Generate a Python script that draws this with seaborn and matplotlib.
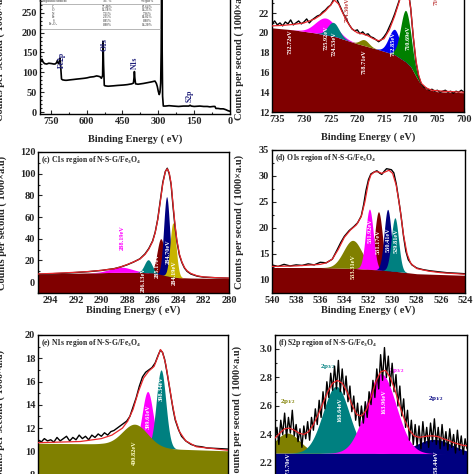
import numpy as np
import matplotlib
matplotlib.use("Agg")
import matplotlib.pyplot as plt
from matplotlib.ticker import MultipleLocator, AutoMinorLocator
import seaborn as sns

sns.set_style("ticks")
plt.rcParams['font.family'] = ['Liberation Serif', 'DejaVu Serif']
plt.rcParams['font.weight'] = 'bold'
plt.rcParams['axes.labelweight'] = 'bold'
plt.rcParams['mathtext.fontset'] = 'custom'
plt.rcParams['mathtext.rm'] = 'Liberation Serif:bold'
plt.rcParams['mathtext.it'] = 'Liberation Serif:bold:italic'
plt.rcParams['mathtext.bf'] = 'Liberation Serif:bold'

MAROON, MAGENTA, TEAL, OLIVE = '#800000', '#FF00FF', '#008080', '#808000'
NAVY, BLUE, GREEN, GOLD = '#000080', '#0000EE', '#008000', '#C8B400'
FIT = '#E8262A'

# ---------------- (a) survey
survey_ev = [795, 790, 787, 782, 776, 767, 758, 746, 738, 732, 726, 722, 718, 715, 713, 711, 709,
             705, 700, 690, 683, 670, 655, 641, 625, 610, 599, 585, 570, 558, 550, 544, 538, 533,
             531, 529, 526, 523, 510, 488, 470, 446, 430, 411, 404, 401, 400, 398, 395, 385, 362,
             345, 328, 314, 308, 304, 300, 296, 293, 290, 288, 286, 284.5, 282, 279, 270, 255, 237,
             215, 195, 181, 172, 167, 162, 150, 126, 110, 95, 84, 70, 63, 59, 50, 40, 28, 18, 7, 0]
survey_cps = [127, 128, 133, 126, 122, 121, 123, 122, 121, 121, 124, 130, 122, 122, 126, 135, 120,
              83, 81, 80, 80, 81, 82, 83, 84, 85, 86, 88, 89, 91, 90, 89, 85, 92,
              178, 120, 67, 66, 65, 66, 67, 68, 69, 71, 73, 90, 102, 85, 71, 70, 72,
              74, 76, 78, 72, 64, 52, 44, 50, 73, 150, 330, 200, 40, 15, 15, 16, 15,
              14, 15, 15, 15, 17, 15, 14, 15, 14, 14, 13, 14, 14, 9, 9, 8, 8, 6, 3, 2]
survey_peaks = ['Fe2p', 'O1s', 'N1s', 'S2p']
survey_peak_ev = [704, 526, 397, 167]
survey_peak_y = [131, 169, 125, 42]
table_head = ['Compound element', 'At. %', 'Weight%']
table_el = ['C', 'O', 'N', 'Fe', 'S', 'Fe$_3$O$_4$']
table_at = ['77.40%', '12.18%', '7.21%', '2.35%', '0.85%', '0.80%']
table_wt = ['67.64%', '14.25%', '7.36%', '10.02%', '0.88%', '14.20%']

# ---------------- (b) Fe2p
fe_ev = [736, 735.5, 735, 734.5, 734, 733.5, 733, 732.5, 732, 731.5, 731, 730.5, 730, 729.5, 729,
         728.5, 728, 727.5, 727, 726.5, 726, 725.5, 725, 724.5, 724, 723.5, 723, 722.5, 722,
         721.5, 721, 720.5, 720, 719.5, 719, 718.5, 718, 717.5, 717, 716.5, 716, 715.5, 715,
         714.5, 714, 713.5, 713, 712.5, 712, 711.5, 711, 710.5, 710, 709.5, 709, 708.5, 708,
         707.5, 707, 706.5, 706, 705.5, 705, 704.5, 704, 703.5, 703, 702.5, 702, 701.5, 701,
         700.5, 700]
fe_cps = [20.9, 21.2, 20.8, 21.0, 20.7, 21.1, 20.9, 21.3, 20.8, 21.0, 21.2, 20.9, 21.1, 21.4, 21.0,
          21.3, 21.5, 21.7, 21.8, 22.1, 22.3, 22.6, 22.8, 23.3, 23.6, 23.0, 22.4, 21.8, 21.3,
          20.8, 20.4, 20.2, 20.3, 19.9, 20.1, 19.8, 19.9, 19.6, 19.5, 19.3, 19.1, 19.3, 19.6,
          20.0, 20.6, 21.2, 21.9, 22.7, 23.5, 24.3, 24.8, 24.5, 22.5, 19.5, 17.0, 15.6, 14.8,
          14.5, 14.4, 14.2, 14.3, 14.1, 14.2, 14.0, 14.1, 14.2, 14.0, 14.1, 13.9, 14.1, 14.0,
          14.2, 14.0]
fe_fit_ev = [736, 734, 732, 730, 728, 727, 726, 725, 724.3, 723.5, 723, 722, 721, 720, 719, 718,
             717, 716, 715, 714, 713, 712, 711.3, 711, 710.5, 710, 709.5, 709, 708.5, 708, 707,
             706, 704, 700]
fe_fit = [20.7, 20.75, 20.85, 21.0, 21.4, 21.75, 22.2, 22.8, 23.3, 22.9, 22.3, 21.2, 20.4, 20.0,
          19.9, 19.7, 19.4, 19.2, 19.4, 20.3, 21.7, 23.4, 24.6, 24.7, 24.3, 22.5, 19.6, 17.2,
          15.7, 14.9, 14.4, 14.2, 14.1, 14.0]
fe_bg_ev = [736, 732, 728, 724, 720, 716, 713, 711, 710, 709, 708, 707, 705, 700]
fe_bg = [20.5, 20.3, 20.0, 19.6, 18.9, 18.3, 17.8, 17.1, 16.6, 15.6, 14.7, 14.3, 14.05, 13.95]
fe_center = [725.92, 724.53, 718.71, 713.0, 710.9]
fe_height = [1.7, 1.4, 0.6, 2.55, 5.2]
fe_fwhm = [4.5, 2.5, 2.0, 2.6, 2.3]
fe_color = [MAGENTA, TEAL, OLIVE, BLUE, GREEN]
fe_lab = ['732.72eV', '725.92eV', '724.53eV', '718.71eV', '712.85eV', '710.69eV']
fe_lab_ev = [732.6, 725.8, 724.3, 718.8, 713.2, 710.4]
fe_lab_y = [19.1, 19.5, 18.9, 17.1, 18.9, 19.5]

# ---------------- (c) C1s
c_ev = [295, 294, 293, 292, 291, 290, 289, 288.5, 288, 287.5, 287, 286.6, 286.3, 286, 285.8, 285.6,
        285.4, 285.2, 285.0, 284.85, 284.7, 284.55, 284.4, 284.25, 284.1, 283.9, 283.7, 283.5,
        283.3, 283, 282.5, 282, 281, 280]
c_cps = [7.2, 7.7, 8.2, 8.9, 9.7, 10.8, 12.5, 14.0, 16.0, 18.5, 21.5, 26, 31, 38, 46, 58,
         75, 92, 102, 105, 100, 90, 70, 52, 38, 25, 18, 13, 10, 7.5, 5.5, 4.6, 4.0, 3.6]
c_fit = [7.5, 8.0, 8.5, 9.1, 9.8, 10.9, 12.4, 14.1, 16.2, 18.6, 21.3, 25.5, 30.5, 37.5, 45.5, 57.5,
         74, 91, 102, 104.5, 101, 91, 72, 54, 39, 26, 18.5, 13.5, 10.5, 8, 5.8, 4.8, 4.1, 3.7]
c_bg_ev = [295, 291, 289, 287, 286, 285.5, 285, 284.5, 284, 283, 280]
c_bg = [7.5, 8.5, 9.0, 9.0, 8.5, 7.5, 6.0, 4.8, 4.2, 3.8, 3.3]
c_center = [285.35, 288.5, 286.35, 284.9, 284.4]
c_height = [33, 4.8, 12, 73, 50]
c_fwhm = [0.7, 2.0, 0.7, 0.55, 0.55]
c_color = [MAROON, MAGENTA, TEAL, NAVY, GOLD]
c_lab = ['288.19eV', '286.13eV', '285.17eV', '284.70eV', '284.19eV']
c_lab_ev = [288.4, 286.7, 285.6, 284.75, 284.3]
c_lab_y = [41, 2.5, 15, 28, 9]
c_lab_col = [MAGENTA, 'white', 'white', 'white', 'white']

# ---------------- (d) O1s
o_ev = [540, 539.5, 539, 538.5, 538, 537.5, 537, 536.5, 536, 535.5, 535, 534.6, 534.3, 534, 533.6,
        533.2, 532.9, 532.6, 532.4, 532.2, 532, 531.8, 531.5, 531.3, 531.1, 530.9, 530.7, 530.5,
        530.3, 530.1, 529.9, 529.7, 529.5, 529.3, 529.1, 528.9, 528.7, 528.4, 528, 527.5, 527,
        526.3, 525.5, 524.7, 524]
o_cps = [12.9, 12.6, 13.0, 12.7, 12.9, 12.8, 13.1, 12.9, 13.4, 13.3, 14.0, 15.8, 17.2, 18.4, 19.5,
         20.3, 21.0, 22.3, 24.5, 27.3, 29.3, 30.4, 30.8, 31.0, 30.6, 30.3, 30.9, 31.4,
         31.3, 31.2, 30.6, 28.5, 25.5, 22.3, 18.5, 15.5, 13.9, 12.9, 12.3, 12.0, 11.8,
         11.6, 11.4, 11.3, 11.2]
o_fit_ev = [540, 538, 536, 535.5, 535, 534.5, 534, 533.5, 533, 532.6, 532.3, 532, 531.8, 531.5,
            531.2, 530.9, 530.6, 530.3, 530, 529.7, 529.4, 529.1, 528.8, 528.5, 528, 527, 526, 524]
o_fit = [12.6, 12.7, 13.0, 13.3, 14.0, 15.9, 18.2, 19.6, 20.6, 22.2, 25.0, 28.8, 30.2, 30.8,
         30.8, 30.5, 30.8, 31.1, 30.5, 28.2, 24.0, 18.7, 15.0, 13.2, 12.2, 11.7, 11.4, 11.1]
o_bg_ev = [540, 536, 533, 531, 529.5, 528, 524]
o_bg = [12.4, 12.4, 12.2, 11.9, 11.6, 11.2, 10.9]
o_center = [531.17, 533.31, 531.92, 530.41, 529.81]
o_height = [11.2, 5.4, 11.6, 11.8, 10.3]
o_fwhm = [0.75, 1.8, 0.75, 0.7, 0.7]
o_color = [MAROON, OLIVE, MAGENTA, NAVY, TEAL]
o_lab = ['533.31eV', '531.92eV', '531.17eV', '530.41eV', '529.81eV']
o_lab_ev = [533.3, 531.85, 531.2, 530.4, 529.7]
o_lab_y = [12.6, 19.4, 17.4, 17.7, 17.6]
o_lab_col = ['#FFFFCC', 'white', 'white', 'white', 'white']

# ---------------- (e) N1s
n_ev = [410, 409.7, 409.4, 409.1, 408.8, 408.5, 408.2, 407.9, 407.6, 407.3, 407, 406.7, 406.4,
        406.1, 405.8, 405.5, 405.2, 404.9, 404.6, 404.3, 404, 403.7, 403.4, 403.1, 402.8, 402.5,
        402.2, 401.9, 401.6, 401.3, 401, 400.7, 400.4, 400.1, 399.8, 399.5, 399.2, 398.9, 398.6,
        398.4, 398.2, 398, 397.8, 397.6, 397.4, 397.2, 397, 396.7, 396.4, 396, 395.5, 395, 394.5,
        394, 393, 392]
n_cps = [11.0, 10.8, 11.1, 10.9, 11.0, 10.8, 11.2, 10.9, 11.1, 11.3, 10.9, 11.2, 11.0,
         11.4, 11.1, 11.3, 11.0, 11.4, 11.2, 11.5, 11.3, 11.6, 11.4, 11.7, 11.8, 12.0,
         12.2, 12.4, 12.6, 13.0, 13.8, 14.6, 15.6, 16.4, 16.8, 17.0, 17.2, 17.6, 18.3,
         18.7, 18.5, 17.9, 16.9, 15.8, 14.7, 13.6, 12.7, 11.9, 11.3, 10.9, 10.6, 10.45, 10.4,
         10.3, 10.25, 10.2]
n_fit_ev = [410, 406, 404, 403, 402, 401.5, 401, 400.5, 400, 399.5, 399, 398.7, 398.4, 398.2,
            397.9, 397.6, 397.3, 397, 396.6, 396, 395, 392]
n_fit = [10.75, 10.85, 11.1, 11.4, 12.0, 12.6, 13.6, 15.1, 16.3, 16.9, 17.3, 18.0, 18.75, 18.5,
         17.5, 15.9, 14.2, 12.8, 11.7, 10.9, 10.4, 10.1]
n_bg_ev = [410, 404, 401, 399, 397, 392]
n_bg = [10.7, 10.65, 10.5, 10.35, 10.2, 10.05]
n_center = [399.61, 398.34, 400.82]
n_height = [4.75, 6.7, 1.85]
n_fwhm = [1.2, 1.05, 2.8]
n_color = [MAGENTA, TEAL, OLIVE]
n_lab = ['400.82eV', '399.61eV', '398.34eV']
n_lab_ev = [400.9, 399.6, 398.3]
n_lab_y = [9.9, 13.0, 15.4]
n_lab_col = ['#FFFFCC', 'white', 'white']

# ---------------- (f) S2p
s_ev = [175.0, 174.8, 174.6, 174.4, 174.2, 174.0, 173.8, 173.6, 173.4, 173.2,
        173.0, 172.8, 172.6, 172.4, 172.2, 172.0, 171.8, 171.6, 171.4, 171.2,
        171.0, 170.8, 170.6, 170.4, 170.2, 170.0, 169.8, 169.6, 169.4, 169.2,
        169.0, 168.8, 168.6, 168.4, 168.2, 168.0, 167.8, 167.6, 167.4, 167.2,
        167.0, 166.8, 166.6, 166.4, 166.2, 166.0, 165.8, 165.6, 165.4, 165.2,
        165.0, 164.8, 164.6, 164.4, 164.2, 164.0, 163.8, 163.6, 163.4, 163.2,
        163.0, 162.8, 162.6, 162.4, 162.2, 162.0, 161.8, 161.6, 161.4, 161.2,
        161.0, 160.8, 160.6, 160.4, 160.2, 160.0, 159.8, 159.6, 159.4, 159.2,
        159.0, 158.8, 158.6, 158.4, 158.2, 158.0, 157.8, 157.6, 157.4, 157.2,
        157.0, 156.8, 156.6, 156.4, 156.2, 156.0, 155.8, 155.6, 155.4, 155.2, 155.0]
s_cps = [2.36, 2.45, 2.33, 2.50, 2.40, 2.55, 2.38, 2.52, 2.41, 2.57,
         2.39, 2.47, 2.35, 2.44, 2.31, 2.46, 2.37, 2.49, 2.36, 2.52,
         2.43, 2.58, 2.47, 2.64, 2.52, 2.70, 2.58, 2.77, 2.66, 2.83,
         2.71, 2.88, 2.72, 2.92, 2.70, 2.86, 2.68, 2.81, 2.63, 2.74,
         2.56, 2.67, 2.50, 2.62, 2.46, 2.60, 2.48, 2.63, 2.52, 2.70,
         2.61, 2.78, 2.66, 2.86, 2.72, 2.96, 2.78, 3.01, 2.80, 2.95,
         2.74, 2.90, 2.70, 2.82, 2.60, 2.74, 2.53, 2.65, 2.45, 2.57,
         2.36, 2.50, 2.33, 2.47, 2.32, 2.46, 2.30, 2.49, 2.34, 2.45,
         2.31, 2.48, 2.35, 2.51, 2.33, 2.45, 2.30, 2.47, 2.32, 2.42,
         2.29, 2.44, 2.31, 2.40, 2.27, 2.43, 2.29, 2.39, 2.26, 2.37, 2.30]
s_fit_ev = [175, 174.5, 174, 173.5, 173, 172.5, 172, 171.5, 171, 170.5, 170, 169.5, 169, 168.5,
            168, 167.5, 167, 166.5, 166, 165.5, 165, 164.5, 164, 163.5, 163, 162.5, 162, 161.5,
            161, 160.5, 160, 159.5, 159, 158.5, 158, 157.5, 157, 156.5, 156, 155.5, 155]
s_fit = [2.375, 2.41, 2.44, 2.445, 2.43, 2.41, 2.40, 2.42, 2.47, 2.54, 2.62, 2.70, 2.76, 2.78,
         2.76, 2.70, 2.61, 2.54, 2.53, 2.57, 2.66, 2.77, 2.84, 2.85, 2.80, 2.71, 2.60, 2.50,
         2.43, 2.39, 2.38, 2.385, 2.39, 2.39, 2.385, 2.37, 2.36, 2.345, 2.335, 2.325, 2.32]
s_bg_ev = [175, 155]
s_bg = [2.27, 2.265]
s_center = [158.44, 173.70, 168.64, 163.96]
s_height = [0.10, 0.14, 0.47, 0.56]
s_fwhm = [4.5, 3.0, 3.2, 3.7]
s_color = [NAVY, OLIVE, TEAL, MAGENTA]
s_lab = ['173.70eV', '168.64eV', '163.96eV', '158.44eV']
s_lab_ev = [173.65, 168.2, 163.65, 158.2]
s_lab_y = [2.186, 2.574, 2.633, 2.20]
s_orb = ['2p$_{1/2}$', '2p$_{3/2}$', '2p$_{3/2}$', '2p$_{1/2}$']
s_orb_ev = [173.7, 169.5, 162.3, 158.3]
s_orb_y = [2.63, 2.88, 2.85, 2.65]
s_orb_col = [OLIVE, TEAL, MAGENTA, NAVY]


def gauss(e, center, height, fwhm):
    s = fwhm / 2.3548
    return height * np.exp(-0.5 * ((e - center) / s) ** 2)


def style(ax, xlim, ylim, xstep, ystep, title=None):
    ax.set_xlim(*xlim)
    ax.set_ylim(*ylim)
    ax.xaxis.set_major_locator(MultipleLocator(xstep))
    ax.yaxis.set_major_locator(MultipleLocator(ystep))
    ax.xaxis.set_minor_locator(AutoMinorLocator(2))
    ax.yaxis.set_minor_locator(AutoMinorLocator(2))
    ax.tick_params(which='both', direction='in', labelsize=7.5, width=0.8, pad=2)
    ax.tick_params(which='major', length=3)
    ax.tick_params(which='minor', length=1.5)
    for sp in ax.spines.values():
        sp.set_linewidth(1.0)
        sp.set_color('black')
    ax.set_xlabel('Binding Energy ( eV)', fontsize=7.5, labelpad=1)
    ax.set_ylabel('Counts per second ( 1000×a.u)', fontsize=7.5)
    if title:
        ax.text(0.015, 0.985, title, transform=ax.transAxes, fontsize=5.5,
                va='top', ha='left')


def vlabels(ax, labels, xs, ys, colors, size=4.5):
    for lab, x, y, c in zip(labels, xs, ys, colors):
        ax.text(x, y, lab, rotation=90, ha='center', va='center', color=c, fontsize=size)


def lines(ax, ev, cps, fit_ev, fit):
    sns.lineplot(x=ev, y=cps, ax=ax, color='black', linewidth=1.0, estimator=None, sort=False, zorder=5)
    sns.lineplot(x=fit_ev, y=fit, ax=ax, color=FIT, linewidth=0.9, estimator=None, sort=False, zorder=6)


fig = plt.figure(figsize=(4.74, 4.74), dpi=100)

# (a)
ax = fig.add_axes([0.0844, 0.7595, 0.4008, 0.2553])
sns.lineplot(x=survey_ev, y=survey_cps, ax=ax, color='black', linewidth=1.2, estimator=None, sort=False)
for lab, x, y in zip(survey_peaks, survey_peak_ev, survey_peak_y):
    ax.text(x, y, lab, rotation=90, ha='center', va='center', color='#1F1F7A', fontsize=5.5)
style(ax, (795, 0), (-5, 300), 150, 50)
ax.yaxis.set_minor_locator(AutoMinorLocator(5))
ax.yaxis.set_label_coords(-0.184, 0.5)
ax.xaxis.set_label_coords(0.5, -0.17)
tx = [0.07, 0.355, 0.565]
row_y = [1.5, 6.7, 10.2, 13.7, 17.2, 20.7, 24.8]
rows = [table_head] + [list(r) for r in zip(table_el, table_at, table_wt)]
for ry, row in zip(row_y, rows):
    for cx, cell in zip(tx, row):
        ax.text(cx, (114 - ry) / 120.8, cell, transform=ax.transAxes, fontsize=2.3,
                ha='center', va='center', color='#666666')
for ly in [3.9, 29.3]:
    ax.plot([0.0, 0.63], [(114 - ly) / 120.8] * 2, transform=ax.transAxes, color='#999999', lw=0.5)

# (b)
ax = fig.add_axes([0.5738, 0.7637, 0.4051, 0.2506])
grid = np.linspace(736, 700, 721)
bg = np.interp(grid, fe_bg_ev[::-1], fe_bg[::-1])
ax.fill_between(grid, 12, bg, color=MAROON, lw=0)
for c, h, w, col in zip(fe_center, fe_height, fe_fwhm, fe_color):
    ax.fill_between(grid, bg, bg + gauss(grid, c, h, w), color=col, lw=0)
lines(ax, fe_ev, fe_cps, fe_fit_ev, fe_fit)
vlabels(ax, fe_lab, fe_lab_ev, fe_lab_y, ['white'] * 6)
ax.text(722.0, 21.1, '724.30eV', rotation=90, ha='center', va='bottom', color='#C04040', fontsize=4.5)
ax.text(705.3, 22.8, '710.80eV', rotation=90, ha='center', va='bottom', color='#C04040', fontsize=4.5)
style(ax, (736, 700), (12, 24), 5, 2)
ax.yaxis.set_label_coords(-0.146, 0.5)
ax.xaxis.set_label_coords(0.5, -0.17)

# (c)
ax = fig.add_axes([0.0802, 0.3819, 0.4030, 0.2975])
grid = np.linspace(295, 280, 1501)
bg = np.interp(grid, c_bg_ev[::-1], c_bg[::-1])
ax.fill_between(grid, -10, bg + gauss(grid, c_center[0], c_height[0], c_fwhm[0]), color=MAROON, lw=0)
for c, h, w, col in zip(c_center[1:], c_height[1:], c_fwhm[1:], c_color[1:]):
    ax.fill_between(grid, bg, bg + gauss(grid, c, h, w), color=col, lw=0)
lines(ax, c_ev, c_cps, c_ev, c_fit)
vlabels(ax, c_lab, c_lab_ev, c_lab_y, c_lab_col)
style(ax, (295, 280), (-10, 120), 2, 20, '(c) C1s region of N-S-G/Fe$_3$O$_4$')
ax.yaxis.set_label_coords(-0.162, 0.5)
ax.xaxis.set_label_coords(0.5, -0.085)

# (d)
ax = fig.add_axes([0.5738, 0.3819, 0.4072, 0.3017])
grid = np.linspace(540, 524, 1601)
bg = np.interp(grid, o_bg_ev[::-1], o_bg[::-1])
ax.fill_between(grid, 7.5, bg + gauss(grid, o_center[0], o_height[0], o_fwhm[0]), color=MAROON, lw=0)
for c, h, w, col in zip(o_center[1:], o_height[1:], o_fwhm[1:], o_color[1:]):
    ax.fill_between(grid, bg, bg + gauss(grid, c, h, w), color=col, lw=0)
lines(ax, o_ev, o_cps, o_fit_ev, o_fit)
vlabels(ax, o_lab, o_lab_ev, o_lab_y, o_lab_col)
style(ax, (540, 524), (7.5, 35), 2, 5, '(d) O1s region of N-S-G/Fe$_3$O$_4$')
ax.yaxis.set_label_coords(-0.145, 0.5)
ax.xaxis.set_label_coords(0.5, -0.085)

# (e)
ax = fig.add_axes([0.0802, -0.0506, 0.4008, 0.3439])
grid = np.linspace(410, 392, 1801)
bg = np.interp(grid, n_bg_ev[::-1], n_bg[::-1])
for c, h, w, col in zip(n_center[:2], n_height[:2], n_fwhm[:2], n_color[:2]):
    ax.fill_between(grid, bg, bg + gauss(grid, c, h, w), color=col, lw=0)
ax.fill_between(grid, 6, bg + gauss(grid, n_center[2], n_height[2], n_fwhm[2]), color=OLIVE, lw=0)
lines(ax, n_ev, n_cps, n_fit_ev, n_fit)
vlabels(ax, n_lab, n_lab_ev, n_lab_y, n_lab_col)
style(ax, (410, 392), (6, 20), 2, 2, '(e) N1s region of N-S-G/Fe$_3$O$_4$')
ax.yaxis.set_label_coords(-0.174, 0.5)

# (f)
ax = fig.add_axes([0.5802, -0.0369, 0.4051, 0.3307])
grid = np.linspace(175, 155, 2001)
bg = np.interp(grid, s_bg_ev[::-1], s_bg[::-1])
ax.fill_between(grid, 2.0, bg + gauss(grid, s_center[0], s_height[0], s_fwhm[0]), color=NAVY, lw=0)
for c, h, w, col in zip(s_center[1:], s_height[1:], s_fwhm[1:], s_color[1:]):
    ax.fill_between(grid, bg, bg + gauss(grid, c, h, w), color=col, lw=0)
lines(ax, s_ev, s_cps, s_fit_ev, s_fit)
vlabels(ax, s_lab, s_lab_ev, s_lab_y, ['white'] * 4)
for lab, x, y, col in zip(s_orb, s_orb_ev, s_orb_y, s_orb_col):
    ax.text(x, y, lab, ha='center', va='center', color=col, fontsize=5)
style(ax, (175, 155), (2.0, 3.1), 5, 0.2, '(f) S2p region of N-S-G/Fe$_3$O$_4$')
ax.yaxis.set_label_coords(-0.172, 0.5)

fig.savefig('out.png', dpi=100)
